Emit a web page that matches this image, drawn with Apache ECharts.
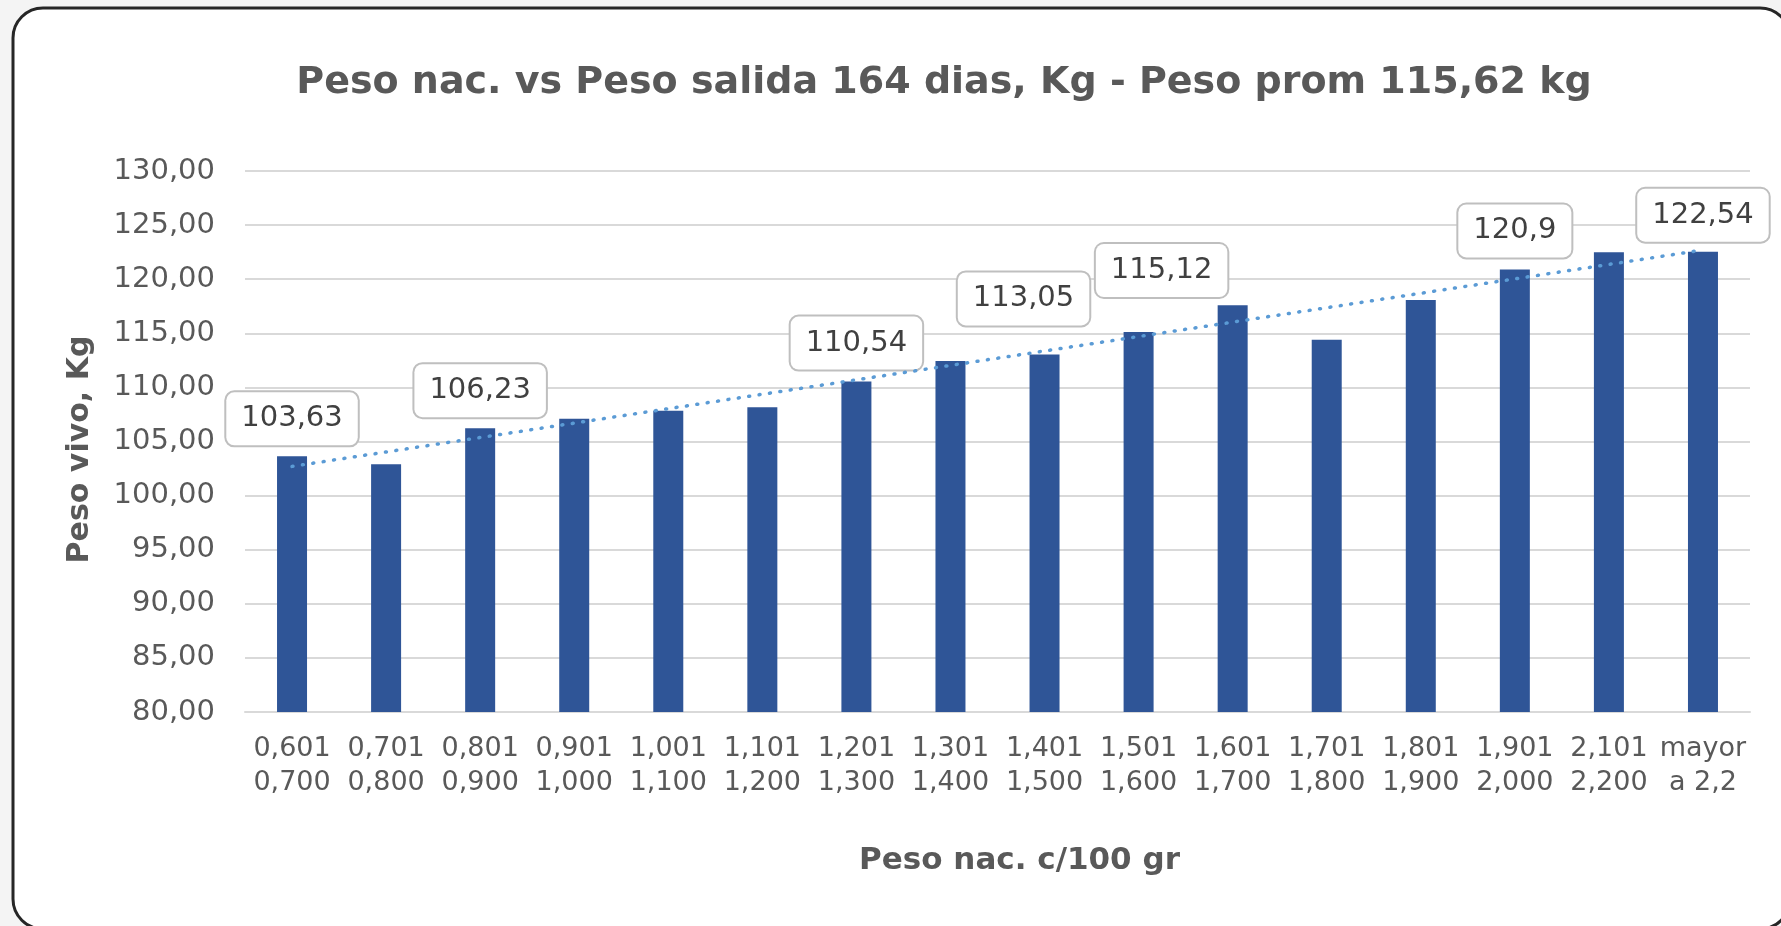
<!DOCTYPE html>
<html>
<head>
<meta charset="utf-8">
<script src="https://cdn.jsdelivr.net/npm/echarts@6/dist/echarts.min.js"></script>
<style>
  html, body { margin: 0; padding: 0; background: #f4f4f4; }
  #chart { width: 1781px; height: 926px; }
</style>
</head>
<body>
<div id="chart"></div>
<script>
var chartTitle = 'Peso nac. vs Peso salida 164 dias, Kg - Peso prom 115,62 kg'
var xTitle = 'Peso nac. c/100 gr'
var yTitle = 'Peso vivo, Kg'

// rangos de peso al nacer
var categories = [
  '0,601\n0,700', '0,701\n0,800', '0,801\n0,900', '0,901\n1,000',
  '1,001\n1,100', '1,101\n1,200', '1,201\n1,300', '1,301\n1,400',
  '1,401\n1,500', '1,501\n1,600', '1,601\n1,700', '1,701\n1,800',
  '1,801\n1,900', '1,901\n2,000', '2,101\n2,200', 'mayor\na 2,2'
]

// peso vivo a la salida, kg
var pesoSalida = [
  103.63, 102.9, 106.23, 107.1, 107.85, 108.16, 110.54, 112.44,
  113.05, 115.12, 117.6, 114.4, 118.08, 120.9, 122.48, 122.54
]

// barras que llevan etiqueta
var labelled = [0, 2, 6, 8, 9, 13, 15]

// linea de tendencia (extremos)
var trendStart = 102.7
var trendEnd = 122.7

var yMin = 80
var yMax = 130
var yStep = 5

function comma(v) {
  return String(v).replace('.', ',')
}

// ajustes de posicion de cada etiqueta: [distancia, desplazamiento x]
var labelNudge = {
  0: [11, 0], 2: [11, 0], 6: [12, 0], 8: [29, -21],
  9: [35, 23], 13: [12, 0], 15: [10, 0]
}

var barData = pesoSalida.map(function (v, i) {
  if (labelled.indexOf(i) < 0) return v
  var n = labelNudge[i]
  return { value: v, label: { show: true, distance: n[0], offset: [n[1], 0] } }
})

var font = '"DejaVu Sans", sans-serif'
var grey = '#595959'

var chart = echarts.init(document.getElementById('chart'))

chart.setOption({
  animation: false,
  textStyle: { fontFamily: font },
  grid: { left: 245, right: 31, top: 171, bottom: 214 },
  graphic: [
    {
      type: 'rect',
      z: -10,
      silent: true,
      shape: { x: 13, y: 8, width: 1777, height: 921, r: 30 },
      style: { fill: '#ffffff', stroke: '#262626', lineWidth: 3 }
    },
    {
      type: 'text',
      x: 944,
      y: 83,
      style: {
        text: chartTitle,
        fill: grey,
        font: 'bold 38px ' + font,
        textAlign: 'center',
        textVerticalAlign: 'middle'
      }
    }
  ],
  xAxis: {
    type: 'category',
    data: categories,
    name: xTitle,
    nameLocation: 'middle',
    nameGap: 133,
    nameTextStyle: { color: grey, fontSize: 31, fontWeight: 'bold', padding: [0, 0, 0, 44] },
    axisLine: { lineStyle: { color: '#d9d9d9', width: 2 } },
    axisTick: { length: 9, lineStyle: { color: '#d9d9d9', width: 2 } },
    axisLabel: { color: grey, fontSize: 27, lineHeight: 34, margin: 20, interval: 0 }
  },
  yAxis: {
    type: 'value',
    min: yMin,
    max: yMax,
    interval: yStep,
    name: yTitle,
    nameLocation: 'middle',
    nameGap: 150,
    nameTextStyle: { color: grey, fontSize: 30, fontWeight: 'bold', padding: [0, 0, 0, -16] },
    axisLine: { show: false },
    axisTick: { show: false },
    splitLine: { lineStyle: { color: '#d9d9d9', width: 2 } },
    axisLabel: {
      color: grey,
      fontSize: 29,
      margin: 30,
      formatter: function (v) { return v.toFixed(2).replace('.', ',') }
    }
  },
  series: [
    {
      type: 'bar',
      data: barData,
      barWidth: 30,
      itemStyle: { color: '#2F5597' },
      label: {
        show: false,
        position: 'top',
        formatter: function (p) { return comma(p.value) },
        color: '#404040',
        fontSize: 29,
        lineHeight: 33,
        backgroundColor: '#ffffff',
        borderColor: '#bfbfbf',
        borderWidth: 2,
        borderRadius: 8,
        padding: [10, 15]
      },
      z: 2
    },
    {
      type: 'line',
      data: [[0, trendStart], [categories.length - 1, trendEnd]],
      symbol: 'none',
      lineStyle: { color: '#5B9BD5', width: 3.5, type: [1, 9.5], cap: 'round' },
      z: 3
    }
  ]
})
</script>
</body>
</html>
